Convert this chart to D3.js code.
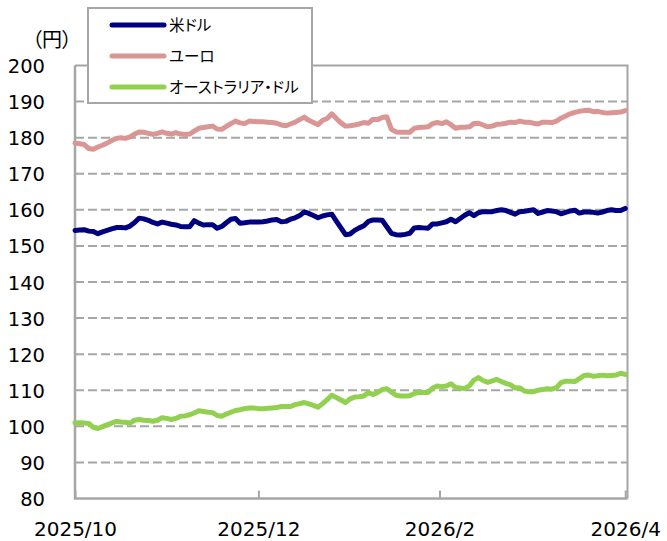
<!DOCTYPE html>
<html>
<head>
<meta charset="utf-8">
<script src="https://cdn.jsdelivr.net/npm/d3@7"></script>
<style>
  body { margin: 0; background: #fff; }
  svg text { font-family: "DejaVu Sans", Verdana, sans-serif; fill: #000; }
  svg text.jp { font-family: "Noto Sans CJK JP", sans-serif; font-feature-settings: "palt"; }
</style>
</head>
<body>
<svg width="667" height="541"></svg>
<script>
/**
 * data (円, 営業日ごと 2025/10/1 - 2026/4/1)
 */
var seriesNames = ["米ドル", "ユーロ", "オーストラリア・ドル"];
var seriesColors = ["#000080", "#DA9694", "#92D050"];

var usd = [
  154.3, 154.4, 154.5, 154.1, 154.0, 153.4, 153.9, 154.3, 154.7, 155.1,
  155.1, 155.0, 155.5, 156.5, 157.7, 157.5, 157.1, 156.5, 156.1, 156.6,
  156.3, 156.0, 155.8, 155.4, 155.3, 155.3, 157.0, 156.3, 155.8, 155.9,
  155.9, 154.9, 155.4, 156.4, 157.4, 157.6, 156.3, 156.4, 156.6, 156.6,
  156.6, 156.7, 156.9, 157.2, 157.3, 156.7, 156.8, 157.4, 157.8, 158.4,
  159.4, 159.0, 158.4, 157.8, 158.3, 158.6, 158.8, 156.9, 155.0, 153.1,
  153.3, 154.3, 155.0, 155.6, 156.8, 157.2, 157.2, 157.1, 155.3, 153.5,
  153.1, 153.0, 153.2, 153.5, 155.0, 155.1, 155.0, 154.9, 156.1, 156.1,
  156.4, 156.7, 157.4, 156.7, 157.6, 158.5, 159.2, 158.4, 159.2, 159.5,
  159.5, 159.5, 159.8, 160.0, 159.8, 159.3, 158.8, 159.5, 159.6, 159.8,
  160.0, 159.0, 159.4, 159.8, 159.7, 159.5, 158.9, 159.3, 159.7, 159.9,
  159.1, 159.4, 159.4, 159.3, 159.1, 159.4, 159.8, 160.0, 159.8, 159.8,
  160.4
];

var eur = [
  178.5, 178.3, 178.1, 177.0, 176.8, 177.4, 177.9, 178.5, 179.2, 179.8,
  180.0, 179.8, 180.2, 181.0, 181.6, 181.5, 181.2, 180.9, 181.2, 181.6,
  181.2, 181.0, 181.4, 181.0, 180.9, 181.0, 181.8, 182.6, 182.8, 183.0,
  183.2, 182.4, 182.3, 183.1, 183.9, 184.6, 184.1, 183.9, 184.6, 184.5,
  184.4, 184.4, 184.3, 184.2, 184.0, 183.5, 183.3, 183.8, 184.3, 185.0,
  185.7, 184.8, 184.2, 183.6, 184.8, 185.3, 186.6, 185.3, 184.1, 183.2,
  183.3, 183.5, 183.8, 184.2, 184.0, 185.1, 185.0, 185.6, 185.8, 182.3,
  181.6, 181.5, 181.5, 181.5, 182.6, 182.8, 182.9, 183.0, 183.9, 184.2,
  183.9, 184.4, 183.6, 182.6, 182.9, 182.9, 183.0, 183.9, 184.0, 183.5,
  183.0, 183.2, 183.7, 183.8, 184.0, 184.3, 184.2, 184.6, 184.3, 184.3,
  184.0, 183.8, 184.3, 184.3, 184.2, 184.6, 185.4, 186.0, 186.6, 187.0,
  187.3, 187.5, 187.6, 187.2, 187.3, 187.0, 186.8, 186.9, 187.0, 187.1,
  187.5
];

var aud = [
  101.0, 101.0, 100.9, 100.8, 99.7, 99.4, 99.9, 100.4, 100.9, 101.4,
  101.2, 101.1, 100.9, 101.7, 101.9, 101.7, 101.6, 101.4, 101.7, 102.4,
  102.2, 101.9, 102.2, 102.8, 102.9, 103.2, 103.7, 104.3, 104.1, 103.9,
  103.8, 103.0, 102.8, 103.4, 103.9, 104.4, 104.6, 104.9, 105.1, 105.1,
  104.9, 104.9, 105.0, 105.1, 105.2, 105.5, 105.5, 105.5, 106.0, 106.3,
  106.6, 106.2, 105.8, 105.3, 106.3, 107.4, 108.6, 108.0, 107.3, 106.6,
  107.6, 108.1, 108.2, 108.4, 109.4, 108.8, 109.4, 110.2, 110.4, 109.5,
  108.6, 108.4, 108.4, 108.5, 109.1, 109.4, 109.4, 109.4, 110.6, 111.2,
  111.0, 111.2, 111.8, 110.8, 110.6, 110.5, 111.2, 112.8, 113.5, 112.7,
  112.2, 112.6, 113.0, 112.4, 111.9, 111.5, 110.6, 110.7, 109.8, 109.6,
  109.6, 110.0, 110.2, 110.4, 110.3, 110.7, 112.1, 112.5, 112.5, 112.4,
  113.2, 114.1, 114.2, 113.9, 114.0, 114.2, 114.0, 114.1, 114.2, 114.7,
  114.4
];

var series = [usd, eur, aud];

// x axis: business-day index of each month start
var xTickPos = [0, 40, 79.5, 120];
var xTickLabels = ["2025/10", "2025/12", "2026/2", "2026/4"];

var yTicks = [80, 90, 100, 110, 120, 130, 140, 150, 160, 170, 180, 190, 200];

/**
 * svg set up
 */
var svg = d3.select("svg");

var plot = { left: 75, right: 627.5, top: 65.5, bottom: 498.5 };

var x = d3.scaleLinear()
    .domain([0, 120.5])
    .range([plot.left, plot.right]);

var y = d3.scaleLinear()
    .domain([80, 200])
    .range([plot.bottom, plot.top]);

// Grid lines
svg.append("g")
    .attr("class", "grid")
  .selectAll("line")
  .data(yTicks.filter(function(d) { return d > 80 && d < 200; }))
  .enter().append("line")
    .attr("x1", plot.left)
    .attr("x2", plot.right)
    .attr("y1", function(d) { return y(d); })
    .attr("y2", function(d) { return y(d); })
    .attr("stroke", "#A6A6A6")
    .attr("stroke-width", 2)
    .attr("stroke-dasharray", "9,4");

// plot area frame (top and right)
svg.append("path")
    .attr("d", "M" + plot.left + "," + plot.top + "H" + plot.right + "V" + plot.bottom)
    .attr("fill", "none")
    .attr("stroke", "#A6A6A6")
    .attr("stroke-width", 2);

// Y axis labels
svg.append("g")
  .selectAll("text")
  .data(yTicks)
  .enter().append("text")
    .attr("x", 45)
    .attr("y", function(d) { return y(d) + 7.5; })
    .attr("text-anchor", "end")
    .attr("font-size", 19.5)
    .text(function(d) { return d; });

svg.append("text")
    .attr("class", "jp")
    .attr("x", 52)
    .attr("y", 47)
    .attr("text-anchor", "middle")
    .attr("font-size", 20)
    .text("（円）");

// X axis
var xAxis = d3.axisBottom(x)
    .tickValues(xTickPos)
    .tickSize(-8)
    .tickFormat(function(d, i) { return xTickLabels[i]; });

var gx = svg.append("g")
    .attr("transform", "translate(0," + plot.bottom + ")")
    .call(xAxis);

gx.select(".domain").remove();
gx.selectAll(".tick line")
    .attr("stroke", "#A6A6A6")
    .attr("stroke-width", 2);
gx.selectAll(".tick text")
    .attr("y", 37)
    .attr("dy", null)
    .attr("font-size", 20)
    .attr("fill", "#000");

// Y axis line and X axis line
svg.append("path")
    .attr("d", "M" + plot.left + "," + plot.top + "V" + plot.bottom + "H" + plot.right)
    .attr("fill", "none")
    .attr("stroke", "#A6A6A6")
    .attr("stroke-width", 2.5);

/**
 * lines
 */
var line = d3.line()
    .x(function(d, i) { return x(i); })
    .y(function(d) { return y(d); });

svg.append("g")
    .attr("class", "lines")
  .selectAll("path")
  .data(series)
  .enter().append("path")
    .attr("d", line)
    .attr("fill", "none")
    .attr("stroke", function(d, i) { return seriesColors[i]; })
    .attr("stroke-width", 5)
    .attr("stroke-linejoin", "round")
    .attr("stroke-linecap", "round");

/**
 * legend
 */
var legend = svg.append("g")
    .attr("class", "legend");

legend.append("rect")
    .attr("x", 88)
    .attr("y", 8)
    .attr("width", 224)
    .attr("height", 95)
    .attr("fill", "#fff")
    .attr("stroke", "#A6A6A6")
    .attr("stroke-width", 2);

var item = legend.selectAll("g")
    .data(seriesNames)
    .enter().append("g")
    .attr("transform", function(d, i) { return "translate(0," + (25 + i * 31) + ")"; });

item.append("line")
    .attr("x1", 112)
    .attr("x2", 164)
    .attr("stroke", function(d, i) { return seriesColors[i]; })
    .attr("stroke-width", 5)
    .attr("stroke-linecap", "round");

item.append("text")
    .attr("class", "jp")
    .attr("x", 169)
    .attr("y", 6)
    .attr("font-size", 15.5)
    .text(function(d) { return d; });
</script>
</body>
</html>
